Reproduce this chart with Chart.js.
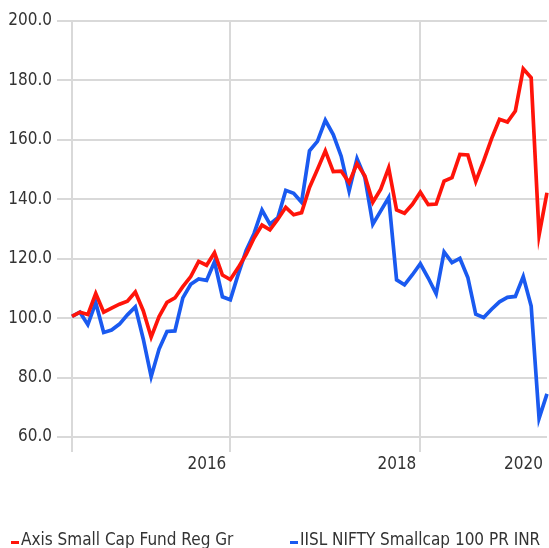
<!DOCTYPE html>
<html>
<head>
<meta charset="utf-8">
<script src="https://cdn.jsdelivr.net/npm/chart.js@4.4.1/dist/chart.umd.min.js"></script>
<style>
  html, body { margin: 0; padding: 0; background: #fff; }
  #wrap { position: relative; width: 549px; height: 548px; overflow: hidden; }
  #wrap canvas { position: absolute; left: 0; top: 0; }
  .legend-item {
    position: absolute; top: 531px; height: 17px; line-height: 17px;
    font-family: 'Liberation Sans Narrow', 'DejaVu Sans Condensed', sans-serif;
    font-size: 17px; color: #333; white-space: nowrap;
  }
  .legend-item i { display: inline-block; width: 8px; height: 3px; margin-right: 2px; vertical-align: 1px; }
</style>
</head>
<body>
<div id="wrap">
  <canvas id="chart" width="549" height="548"></canvas>
  <div id="legend"></div>
</div>
<script>
// monthly points, Apr 2015 .. Apr 2020
const months = [];
for (let y = 2015, m = 4; months.length < 61; m++) {
  if (m > 12) { m = 1; y++; }
  months.push(y + '-' + String(m).padStart(2, '0'));
}

const axisFund = [
  100.6, 102.0, 101.2, 108.3, 102.0, 103.4, 104.7, 105.7, 108.8, 102.5,
  93.6, 100.5, 105.3, 106.8, 110.6, 114.0, 119.1, 117.8, 122.0, 114.5,
  113.0, 117.0, 121.5, 127.0, 131.3, 129.7, 133.3, 137.3, 134.8, 135.5,
  144.0, 150.0, 156.3, 149.3, 149.5, 145.6, 152.0, 147.8, 139.0, 143.4,
  150.6, 136.4, 135.3, 138.3, 142.4, 138.2, 138.4, 146.1, 147.3, 155.1,
  154.9, 146.0, 152.9, 160.4, 166.9, 166.0, 169.7, 183.9, 180.9, 128.0,
  142.2
];

const niftySmallcap = [
  100.6, 102.0, 97.8, 105.2, 95.2, 96.0, 98.0, 101.1, 103.8, 93.0,
  80.3, 89.6, 95.5, 95.7, 106.8, 111.4, 113.2, 112.7, 119.0, 107.2,
  106.2, 114.8, 122.8, 128.5, 136.4, 131.6, 133.8, 143.0, 142.0, 139.0,
  156.3, 159.5, 166.6, 161.8, 154.5, 142.8, 153.7, 147.3, 131.6, 136.1,
  140.6, 112.9, 111.2, 114.6, 118.3, 113.5, 108.2, 122.3, 118.7, 120.1,
  113.7, 101.3, 100.2, 103.0, 105.5, 107.0, 107.3, 114.0, 104.1, 66.3,
  74.5
];

const seriesNames = ['Axis Small Cap Fund Reg Gr', 'IISL NIFTY Smallcap 100 PR INR'];
const seriesColors = ['#ff140a', '#1a5af0'];

// year markers on the x axis (index into months)
const yearTickIndex = [0, 20, 44, 60];
const yearTickLabels = ['', '2016', '2018', '2020'];

const gridColor = '#d9d9d9';
const font = { family: "'Liberation Sans Narrow', 'DejaVu Sans Condensed', sans-serif", size: 17 };

new Chart(document.getElementById('chart'), {
  type: 'line',
  data: {
    labels: months,
    datasets: [axisFund, niftySmallcap].map((d, i) => ({
      label: seriesNames[i],
      data: d,
      borderColor: seriesColors[i],
      borderWidth: 3.7,
      pointRadius: 0,
      tension: 0,
      fill: false
    }))
  },
  options: {
    responsive: false,
    animation: false,
    layout: { padding: { top: 21, right: 0, bottom: 0, left: 0 } },
    plugins: { legend: { display: false }, tooltip: { enabled: false } },
    scales: {
      x: {
        border: { display: false },
        grid: {
          color: c => (c.tick && c.tick.value === 60) ? 'rgba(0,0,0,0)' : gridColor,
          lineWidth: 2,
          tickLength: 15
        },
        afterBuildTicks: s => { s.ticks = yearTickIndex.map(v => ({ value: v })); },
        afterFit: s => { s.height = 111; },
        ticks: {
          autoSkip: false,
          maxRotation: 0,
          align: 'end',
          labelOffset: -4,
          padding: 2,
          color: '#333',
          font: font,
          callback: v => yearTickLabels[yearTickIndex.indexOf(v)] || ''
        }
      },
      y: {
        min: 60,
        max: 200,
        border: { display: false },
        grid: { color: gridColor, lineWidth: 2, tickLength: 15 },
        afterFit: s => { s.width = 72; },
        ticks: {
          stepSize: 20,
          padding: 5,
          color: '#333',
          font: font,
          callback: v => v.toFixed(1)
        }
      }
    }
  }
});

// legend as html text under the plot
const legend = document.getElementById('legend');
const legendLeft = [11, 290];
seriesNames.forEach((name, i) => {
  const item = document.createElement('div');
  item.className = 'legend-item';
  item.style.left = legendLeft[i] + 'px';
  item.innerHTML = '<i style="background:' + seriesColors[i] + '"></i>' + name;
  legend.appendChild(item);
});
</script>
</body>
</html>
